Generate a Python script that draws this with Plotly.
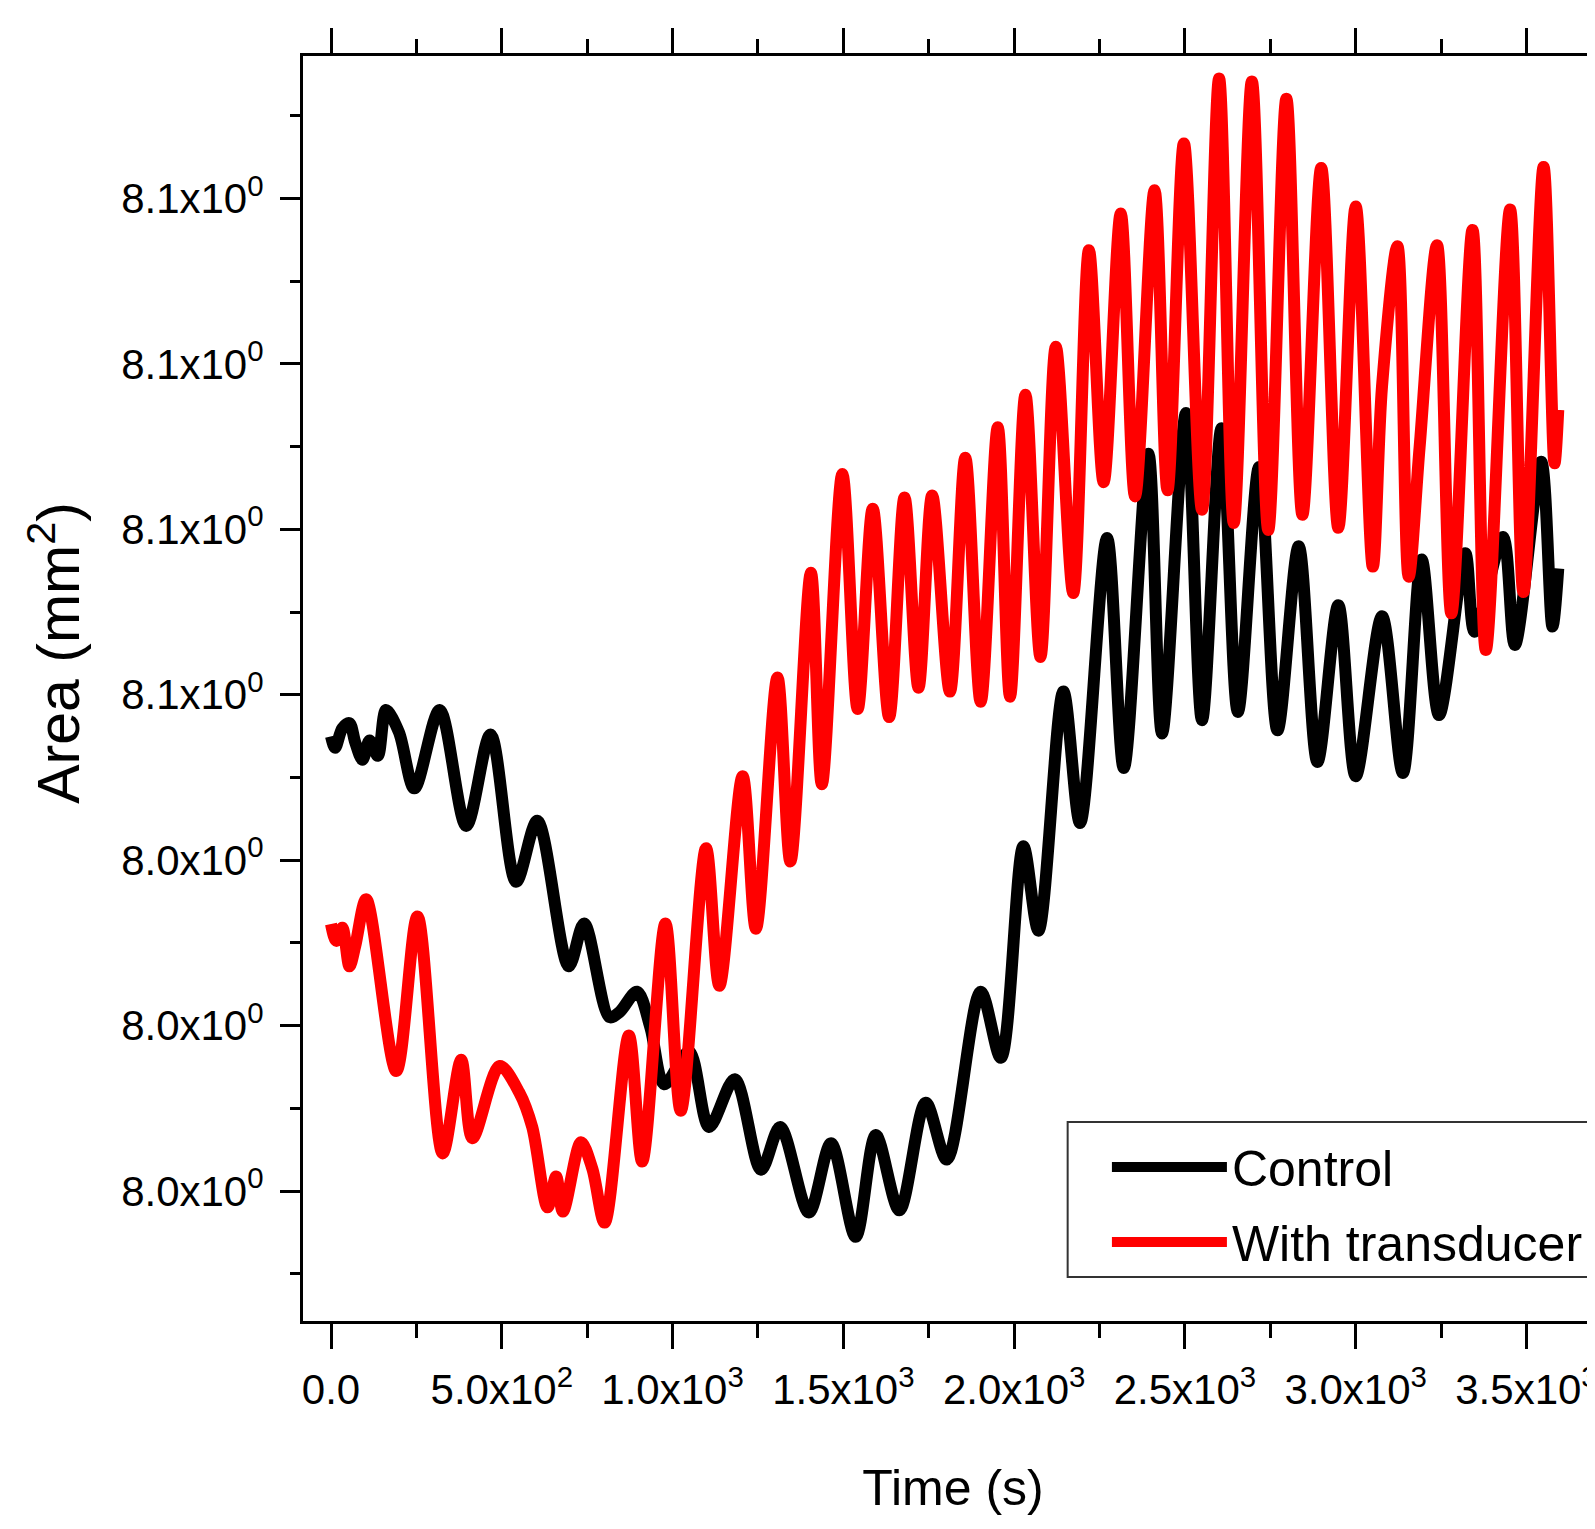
import plotly.graph_objects as go

# ---- data (time in s, area in mm^2) ----
control_t = [0, 12, 33, 54, 71, 92, 113, 137, 161, 199,
             244, 318, 396, 467, 542, 604, 696, 741, 815, 845,
             896, 935, 976, 1048, 1107, 1182, 1259, 1315, 1399, 1464,
             1536, 1595, 1664, 1741, 1803, 1902, 1961, 2027, 2071, 2144,
             2193, 2272, 2321, 2393, 2433, 2503, 2550, 2607, 2655, 2717,
             2771, 2833, 2888, 2949, 3000, 3077, 3138, 3193, 3244, 3321,
             3348, 3431, 3466, 3543, 3576, 3593]
control_area = [8.04748, 8.04680, 8.04797, 8.04828, 8.04711, 8.04607, 8.04723, 8.04631, 8.04908, 8.04773,
                8.04434, 8.04908, 8.04207, 8.04760, 8.03869, 8.04238, 8.03358, 8.03617, 8.03051, 8.03082,
                8.03205, 8.02989, 8.02645, 8.02842, 8.02387, 8.02676, 8.02129, 8.02387, 8.01870, 8.02288,
                8.01723, 8.02338, 8.01883, 8.02534, 8.02190, 8.03205, 8.02805, 8.04084, 8.03574, 8.05019,
                8.04225, 8.05947, 8.04557, 8.06457, 8.04766, 8.06703, 8.04846, 8.06611, 8.04896, 8.06377,
                8.04785, 8.05898, 8.04594, 8.05541, 8.04508, 8.05474, 8.04527, 8.05818, 8.04877, 8.05855,
                8.05381, 8.05953, 8.05301, 8.06408, 8.05412, 8.05763]

transducer_t = [0, 15, 33, 54, 71, 103, 191, 253, 327, 381,
                414, 494, 551, 589, 634, 659, 679, 732, 765, 801,
                872, 911, 979, 1024, 1098, 1137, 1205, 1244, 1307, 1345,
                1405, 1437, 1497, 1542, 1586, 1634, 1679, 1720, 1760, 1812,
                1857, 1902, 1952, 1988, 2033, 2077, 2122, 2173, 2219, 2262,
                2312, 2354, 2411, 2449, 2497, 2550, 2600, 2643, 2696, 2744,
                2797, 2844, 2899, 2949, 3000, 3050, 3077, 3122, 3155, 3187,
                3238, 3280, 3342, 3381, 3452, 3491, 3550, 3582, 3593]
transducer_area = [8.03614, 8.03512, 8.03592, 8.03358, 8.03481, 8.03764, 8.02725, 8.03660, 8.02227, 8.02793,
                   8.02319, 8.02756, 8.02596, 8.02387, 8.01901, 8.02087, 8.01876, 8.02295, 8.02135, 8.01809,
                   8.02940, 8.02178, 8.03617, 8.02485, 8.04072, 8.03241, 8.04508, 8.03586, 8.05105, 8.03992,
                   8.05738, 8.04459, 8.06334, 8.04914, 8.06125, 8.04865, 8.06193, 8.05043, 8.06205, 8.05019,
                   8.06433, 8.04957, 8.06617, 8.04988, 8.06814, 8.05228, 8.07103, 8.05615, 8.07687, 8.06285,
                   8.07909, 8.06199, 8.08050, 8.06236, 8.08333, 8.06119, 8.08726, 8.06039, 8.08708, 8.05996,
                   8.08603, 8.06088, 8.08185, 8.06009, 8.07952, 8.05775, 8.06863, 8.07712, 8.05713, 8.06494,
                   8.07718, 8.05492, 8.07810, 8.05271, 8.07933, 8.05621, 8.08191, 8.06399, 8.06722]

series_names = ["Control", "With transducer"]

x_tickvals = [0, 500, 1000, 1500, 2000, 2500, 3000, 3500]
x_ticktext = ["0.0", "5.0x10<sup>2</sup>", "1.0x10<sup>3</sup>", "1.5x10<sup>3</sup>",
              "2.0x10<sup>3</sup>", "2.5x10<sup>3</sup>", "3.0x10<sup>3</sup>", "3.5x10<sup>3</sup>"]
y_tickvals = [8.02, 8.03, 8.04, 8.05, 8.06, 8.07, 8.08]
y_ticktext = ["8.0x10<sup>0</sup>", "8.0x10<sup>0</sup>", "8.0x10<sup>0</sup>",
              "8.1x10<sup>0</sup>", "8.1x10<sup>0</sup>", "8.1x10<sup>0</sup>", "8.1x10<sup>0</sup>"]

FONT = "Liberation Sans, Arial, sans-serif"

fig = go.Figure()
fig.add_trace(go.Scatter(x=control_t, y=control_area, mode="lines", name=series_names[0],
                         legendgroup="a",
                         line=dict(color="#000000", width=12, shape="spline", smoothing=0.9)))
fig.add_trace(go.Scatter(x=transducer_t, y=transducer_area, mode="lines", name=series_names[1],
                         legendgroup="b",
                         line=dict(color="#ff0000", width=12, shape="spline", smoothing=0.9)))

# legend frame (paper coordinates)
fig.add_shape(type="rect", xref="paper", yref="paper",
              x0=0.5882, x1=0.9900, y0=0.0348, y1=0.1573,
              line=dict(color="#333333", width=2), fillcolor="rgba(0,0,0,0)", layer="above")

# y-axis title placed as a rotated annotation
fig.add_annotation(text="Area (mm<sup>2</sup>)", xref="paper", yref="paper",
                   x=-0.191, y=0.528, xanchor="center", yanchor="middle",
                   textangle=-90, showarrow=False,
                   font=dict(family=FONT, size=59, color="black"))

fig.update_layout(
    width=1595, height=1529,
    margin=dict(l=295, r=0, t=48, b=216),
    paper_bgcolor="white", plot_bgcolor="white",
    font=dict(family=FONT, color="black"),
    showlegend=True,
    legend=dict(x=0.6184, y=0.1526, xanchor="left", yanchor="top",
                borderwidth=0, bgcolor="rgba(0,0,0,0)",
                font=dict(family=FONT, size=50, color="black"),
                itemwidth=115, traceorder="grouped", tracegroupgap=7),
    xaxis=dict(range=[-82, 3724], showgrid=False, zeroline=False, automargin=False,
               showline=True, linecolor="black", linewidth=3, mirror="ticks",
               ticks="outside", ticklen=25, tickwidth=3, tickcolor="black",
               tickmode="array", tickvals=x_tickvals, ticktext=x_ticktext, tickangle=0,
               ticklabelstandoff=5, ticklabeloverflow="allow",
               tickfont=dict(family=FONT, size=42, color="black"),
               minor=dict(ticks="outside", ticklen=14, tickwidth=3, tickcolor="black", dtick=250, tick0=0, showgrid=False),
               title=dict(text="Time (s)", font=dict(family=FONT, size=50, color="black"), standoff=58)),
    yaxis=dict(range=[8.012141, 8.088614], showgrid=False, zeroline=False, automargin=False,
               showline=True, linecolor="black", linewidth=3, mirror=False,
               ticks="outside", ticklen=20, tickwidth=3, tickcolor="black",
               tickmode="array", tickvals=y_tickvals, ticktext=y_ticktext,
               ticklabelstandoff=8,
               tickfont=dict(family=FONT, size=42, color="black"),
               minor=dict(ticks="outside", ticklen=10, tickwidth=3, tickcolor="black", dtick=0.005, tick0=8.0, showgrid=False)),
)

fig.write_html("out.html")
